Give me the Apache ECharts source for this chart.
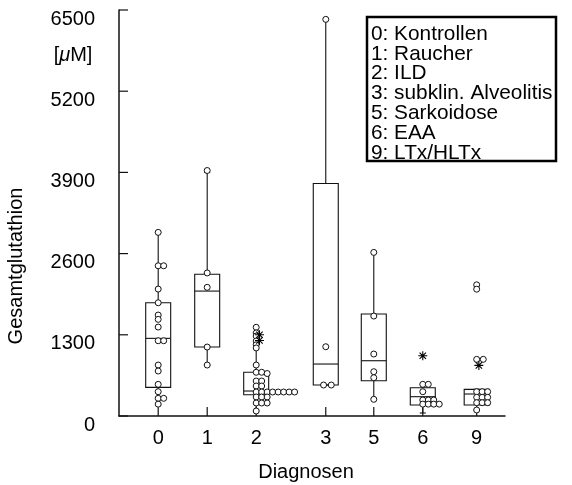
<!DOCTYPE html>
<html>
<head>
<meta charset="utf-8">
<script src="https://cdn.jsdelivr.net/npm/echarts@6/dist/echarts.min.js"></script>
<style>
html, body { margin: 0; padding: 0; background: #fff; }
#chart { width: 572px; height: 485px; }
</style>
</head>
<body>
<div id="chart"></div>
<script>
// Diagnosegruppen und ihre Lage auf der x-Achse (Gruppe 3 steht etwas abgesetzt)
var categories = ["0", "1", "2", "3", "5", "6", "9"];
var groupX = [0.8, 1.8, 2.8, 4.22, 5.2, 6.2, 7.3];
var yTicks = [0, 1300, 2600, 3900, 5200, 6500];
var legendLines = [
  "0: Kontrollen",
  "1: Raucher",
  "2: ILD",
  "3: subklin. Alveolitis",
  "5: Sarkoidose",
  "6: EAA",
  "9: LTx/HLTx"
];

// Box je Gruppe: [min, Q1, Median, Q3, max]
var boxStats = [
  [176, 459, 1243, 1813, 2940],
  [816, 1104, 2000, 2270, 3900],
  [80, 340, 400, 700, 1090],
  [496, 496, 832, 3723, 6350],
  [267, 565, 885, 1632, 2619],
  [48, 176, 309, 453, 507],
  [96, 176, 352, 427, 427]
];

// Einzelwerte je Gruppe: [Wert, Spalte] (Spalte = seitliches Ausweichen)
var points0 = [[2940, 0], [2405, 0], [2405, 1], [2032, 0], [1813, 0], [1616, 0], [1547, 0],
  [1424, 0], [1205, 0], [1205, 1], [816, 0], [720, 0], [507, 0], [389, 0], [283, 0], [283, 1], [190, 0]];
var points1 = [[3930, 0], [2290, 0], [2060, 0], [1104, 0], [816, 0]];
var points2 = [[1420, 0], [1330, 0], [1280, 0], [1200, 0], [1140, 0], [1090, 0], [816, 0],
  [700, 0], [700, 1], [680, 2], [560, 0], [560, 1], [480, 0], [480, 1],
  [384, 0], [384, 1], [384, 2], [384, 3], [384, 4], [384, 5], [384, 6], [384, 7],
  [304, 0], [304, 1], [304, 2], [208, 0], [208, 1], [208, 2], [80, 0]];
var points3 = [[6350, 0], [1109, 0], [496, -0.4], [496, 1]];
var points5 = [[2619, 0], [1600, 0], [992, 0], [709, 0], [613, 0], [267, 0]];
var points6 = [[507, 0], [507, 1], [389, 0], [256, 0], [256, 1], [256, 2],
  [190, 0], [190, 1], [190, 2], [190, 3]];
var points9 = [[2100, 0], [2030, 0], [907, 0], [907, 1.2], [389, 0], [389, 1], [389, 2],
  [299, 0], [299, 1], [299, 2], [213, 0], [213, 1], [213, 2], [96, 0]];
var allPoints = [points0, points1, points2, points3, points5, points6, points9];

// Extremwerte (Sternchen): [Gruppe, Wert, Spalte]
var extremes = [[2, 1300, 0.6], [2, 1210, 0.6], [5, 965, 0], [6, 810, 0.4]];

var colStep = 0.112;

var boxData = boxStats.map(function (b, i) {
  return [groupX[i]].concat(b);
});
var circleData = [];
allPoints.forEach(function (list, i) {
  list.forEach(function (p) {
    circleData.push([groupX[i] + p[1] * colStep, p[0]]);
  });
});
var starData = extremes.map(function (e) {
  return [groupX[e[0]] + e[2] * colStep, e[1]];
});

var starPath = "path://M-0.6,-5L0.6,-5L0.6,5L-0.6,5Z M-5,-0.6L5,-0.6L5,0.6L-5,0.6Z " +
  "M-3.96,-3.11L-3.11,-3.96L3.96,3.11L3.11,3.96Z M3.11,-3.96L3.96,-3.11L-3.11,3.96L-3.96,3.11Z";

var font = "Liberation Sans";
var tickLen = 9;
var tickStyle = { stroke: "#111", lineWidth: 1.2 };
var chart = echarts.init(document.getElementById("chart"));

var option = {
  animation: false,
  textStyle: { fontFamily: font },
  grid: { left: 119, right: 67, top: 10, bottom: 69, containLabel: false, outerBoundsMode: "none" },
  xAxis: {
    type: "value",
    min: 0,
    max: 7.878,
    name: "Diagnosen",
    nameLocation: "middle",
    nameGap: 46,
    nameTextStyle: { fontSize: 20, color: "#000", fontFamily: font, padding: [0, 12, 0, 0] },
    axisLine: { onZero: false, lineStyle: { color: "#111", width: 1.5 } },
    axisTick: { show: false },
    axisLabel: {
      customValues: groupX,
      margin: 12,
      fontSize: 20,
      color: "#000",
      formatter: function (v) {
        var best = 0;
        for (var i = 1; i < groupX.length; i++) {
          if (Math.abs(groupX[i] - v) < Math.abs(groupX[best] - v)) best = i;
        }
        return categories[best];
      }
    },
    splitLine: { show: false }
  },
  yAxis: {
    type: "value",
    min: 0,
    max: 6500,
    interval: 1300,
    axisLine: { show: true, onZero: false, lineStyle: { color: "#111", width: 1.5 } },
    axisTick: { show: false },
    axisLabel: {
      customValues: yTicks,
      margin: 24,
      fontSize: 20,
      color: "#000",
      verticalAlign: "top",
      lineHeight: 18,
      formatter: function (v) { return String(v); }
    },
    splitLine: { show: false }
  },
  graphic: [
    {
      type: "text", x: 16, y: 266, rotation: Math.PI / 2,
      style: { text: "Gesamtglutathion", fontSize: 20, fontFamily: font, fill: "#000",
        align: "center", verticalAlign: "middle" }
    },
    {
      type: "text", x: 73, y: 55,
      style: { text: "[{i|\u03bc}M]", fontSize: 20, fontFamily: font, fill: "#000",
        align: "center", verticalAlign: "middle",
        rich: { i: { fontStyle: "italic", fontSize: 20, fontFamily: font } } }
    },
    {
      type: "group", z: 100,
      children: [
        { type: "rect", shape: { x: 367, y: 17, width: 189, height: 144 },
          style: { fill: "#fff", stroke: "#000", lineWidth: 2.5 } }
      ].concat(legendLines.map(function (t, i) {
        return { type: "text", x: 371, y: 34 + i * 19.8,
          style: { text: t, fontSize: 20.8, fontFamily: font, fill: "#000", verticalAlign: "middle" } };
      }))
    }
  ],
  series: [
    {
      // Striche der y-Achse, nach innen
      type: "custom",
      data: yTicks.map(function (v) { return [0, v]; }),
      z: 1,
      renderItem: function (params, api) {
        var p = api.coord([api.value(0), api.value(1)]);
        return { type: "line", shape: { x1: p[0], y1: p[1], x2: p[0] + tickLen, y2: p[1] }, style: tickStyle };
      }
    },
    {
      // Striche der x-Achse an den Gruppen, nach innen
      type: "custom",
      data: groupX.map(function (x) { return [x, 0]; }),
      z: 1,
      renderItem: function (params, api) {
        var p = api.coord([api.value(0), api.value(1)]);
        return { type: "line", shape: { x1: p[0], y1: p[1], x2: p[0], y2: p[1] - tickLen }, style: tickStyle };
      }
    },
    {
      type: "custom",
      data: boxData,
      z: 2,
      renderItem: function (params, api) {
        var x = api.value(0);
        var lo = api.coord([x, api.value(1)]);
        var q1 = api.coord([x, api.value(2)]);
        var md = api.coord([x, api.value(3)]);
        var q3 = api.coord([x, api.value(4)]);
        var hi = api.coord([x, api.value(5)]);
        var hw = api.size([0.255, 0])[0];
        var cw = 3;
        var st = { stroke: "#111", lineWidth: 1.1, fill: null };
        return {
          type: "group",
          children: [
            { type: "line", shape: { x1: lo[0], y1: lo[1], x2: q1[0], y2: q1[1] }, style: st },
            { type: "line", shape: { x1: q3[0], y1: q3[1], x2: hi[0], y2: hi[1] }, style: st },
            { type: "line", shape: { x1: lo[0] - cw, y1: lo[1], x2: lo[0] + cw, y2: lo[1] }, style: st },
            { type: "line", shape: { x1: hi[0] - cw, y1: hi[1], x2: hi[0] + cw, y2: hi[1] }, style: st },
            { type: "rect", shape: { x: q3[0] - hw, y: q3[1], width: 2 * hw, height: q1[1] - q3[1] }, style: st },
            { type: "line", shape: { x1: md[0] - hw, y1: md[1], x2: md[0] + hw, y2: md[1] }, style: st }
          ]
        };
      }
    },
    {
      type: "scatter",
      data: circleData,
      z: 3,
      symbol: "circle",
      symbolSize: 6,
      itemStyle: { color: "#fff", borderColor: "#111", borderWidth: 1, opacity: 1 }
    },
    {
      type: "scatter",
      data: starData,
      z: 4,
      symbol: starPath,
      symbolSize: 9,
      itemStyle: { color: "#000", opacity: 1 }
    }
  ]
};

chart.setOption(option);
</script>
</body>
</html>
